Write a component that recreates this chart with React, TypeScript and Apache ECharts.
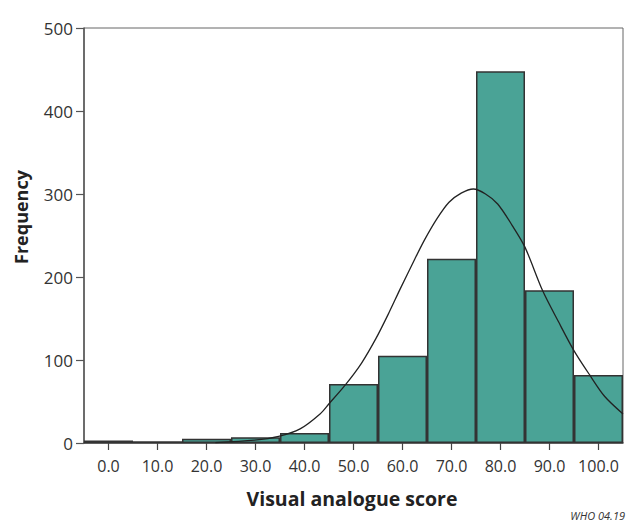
import React, { useEffect, useRef } from "react";
import * as echarts from "echarts";

const categories = ["0.0", "10.0", "20.0", "30.0", "40.0", "50.0", "60.0", "70.0", "80.0", "90.0", "100.0"];
const frequencies = [3, 2, 5, 7, 12, 71, 105, 222, 448, 184, 82];
const yTicks = [0, 100, 200, 300, 400, 500];
// normal curve points (x in score units, y in frequency)
const curveX = [22, 30, 35, 39.4, 43.5, 45.3, 48.7, 52, 55, 57.5, 60, 63, 65, 67.5, 70, 72.5, 75, 77.5, 80, 83, 85.6, 89.2, 92.5, 95.7, 98.9, 102, 105.75];
const curveY = [0.5, 3.4, 8, 17, 35, 47, 70, 96, 126, 155, 186, 222, 245, 270, 290, 301, 306, 300, 288, 262, 236, 184, 146, 111, 82, 56, 35];

const FONT = "'Open Sans', sans-serif";

export default function App() {
  const ref = useRef<HTMLDivElement>(null);
  useEffect(() => {
    if (!ref.current) return;
    const chart = echarts.init(ref.current, null, { renderer: "svg" });
    chart.setOption({
      animation: false,
      backgroundColor: "#ffffff",
      grid: {
        left: 84,
        right: 12,
        top: 28,
        bottom: 78,
        show: true,
        borderColor: "#666",
        borderWidth: 1,
        backgroundColor: "transparent",
      },
      xAxis: [
        {
          type: "category",
          data: categories,
          boundaryGap: true,
          axisLine: { show: true, onZero: false, lineStyle: { color: "#444", width: 1.5 } },
          axisTick: { show: true, alignWithLabel: true, interval: 0, length: 7, lineStyle: { color: "#444", width: 1.2 } },
          axisLabel: { color: "#333", fontFamily: FONT, fontSize: 16, margin: 15, interval: 0 },
          splitLine: { show: false },
        },
        {
          type: "value",
          min: -5,
          max: 105.75,
          show: false,
          splitLine: { show: false },
        },
      ],
      yAxis: {
        type: "value",
        min: yTicks[0],
        max: yTicks[yTicks.length - 1],
        interval: 100,
        axisLine: { show: true, onZero: false, lineStyle: { color: "#555", width: 1.5 } },
        axisTick: { show: true, length: 8, lineStyle: { color: "#555", width: 1.2 } },
        axisLabel: { color: "#333", fontFamily: FONT, fontSize: 17, margin: 11 },
        splitLine: { show: false },
      },
      graphic: [
        {
          type: "text",
          x: 21,
          y: 217,
          rotation: Math.PI / 2,
          style: {
            text: "Frequency",
            fill: "#222",
            font: `bold 18px ${FONT}`,
            align: "center",
            verticalAlign: "middle",
          },
        },
        {
          type: "text",
          x: 352,
          y: 498,
          style: {
            text: "Visual analogue score",
            fill: "#222",
            font: `bold 19.5px ${FONT}`,
            align: "center",
            verticalAlign: "middle",
          },
        },
        {
          type: "text",
          x: 625,
          y: 515,
          style: {
            text: "WHO 04.19",
            fill: "#333",
            font: `italic 11px ${FONT}`,
            align: "right",
            verticalAlign: "middle",
          },
        },
      ],
      series: [
        {
          type: "bar",
          data: frequencies,
          xAxisIndex: 0,
          barCategoryGap: "0%",
          itemStyle: { color: "#4aa396", borderColor: "#333", borderWidth: 1.5 },
        },
        {
          type: "line",
          xAxisIndex: 1,
          data: curveX.map((x, i) => [x, curveY[i]]),
          smooth: 0.3,
          showSymbol: false,
          symbol: "none",
          lineStyle: { color: "#222", width: 1.3 },
          z: 5,
        },
      ],
    });
    return () => chart.dispose();
  }, []);
  return <div ref={ref} style={{ position: "fixed", left: 0, top: 0, width: 635, height: 521 }} />;
}
